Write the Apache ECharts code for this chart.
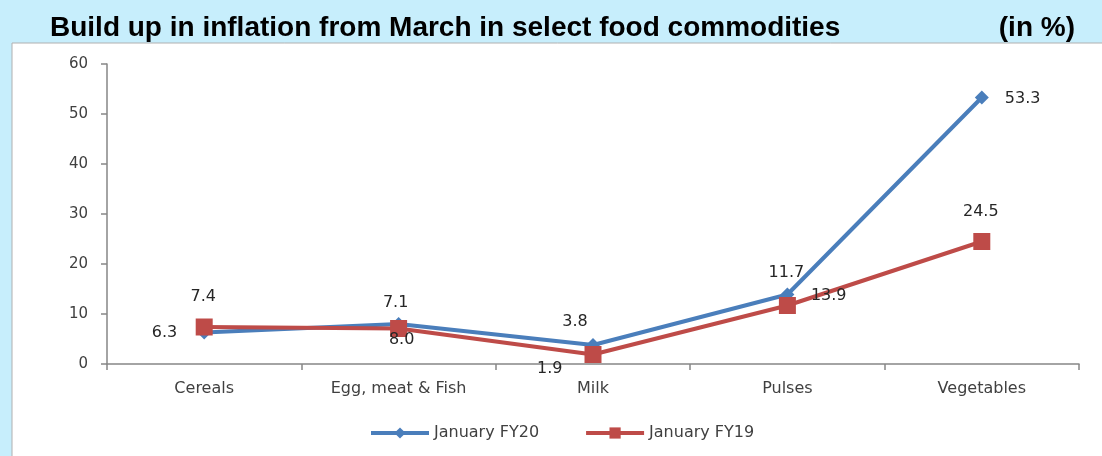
<!DOCTYPE html>
<html>
<head>
<meta charset="utf-8">
<script src="https://cdn.jsdelivr.net/npm/echarts@6/dist/echarts.min.js"></script>
<style>
    html, body { margin: 0; padding: 0; background: #c7eefc; }
    #main { width: 1102px; height: 456px; }
</style>
</head>
<body>
<div id="main"></div>
<script>
// 数据
var categories = ['Cereals', 'Egg, meat & Fish', 'Milk', 'Pulses', 'Vegetables'];
var fy20Values = [6.3, 8.0, 3.8, 13.9, 53.3];
var fy19Values = [7.4, 7.1, 1.9, 11.7, 24.5];
// 图上标注的文字（原图中有两处是对调的）
var fy20Labels = ['6.3', '7.1', '3.8', '11.7', '53.3'];
var fy19Labels = ['7.4', '8.0', '1.9', '13.9', '24.5'];
var yTicks = [0, 10, 20, 30, 40, 50, 60];

(function() {
    var myChart = echarts.init(document.getElementById('main'));

    // 每个点的标签位置和微调
    var fy20Pos = ['left', 'top', 'top', 'top', 'right'];
    var fy20Off = [[-10, 0], [-3, 4], [-18, 2], [-1, 3], [6, 1]];
    var fy19Pos = ['top', 'bottom', 'left', 'right', 'top'];
    var fy19Off = [[-1, -4], [3, -15], [-12, 14], [5, -10], [-1, -3]];

    function buildData(values, labels, pos, off) {
        return values.map(function(v, i) {
            return {
                value: v,
                label: { formatter: labels[i], position: pos[i], offset: off[i] }
            };
        });
    }

    var labelStyle = {
        show: true,
        color: '#262626',
        fontFamily: 'DejaVu Sans',
        fontSize: 16,
        distance: 10
    };

    var option = {
        backgroundColor: '#c7eefc',
        animation: false,
        title: [{
            text: 'Build up in inflation from March in select food commodities',
            left: 45,
            top: 9,
            textStyle: { fontFamily: 'Liberation Sans', fontWeight: 'bold', fontSize: 28, color: '#000' }
        }, {
            text: '(in %)',
            right: 22,
            top: 9,
            textStyle: { fontFamily: 'Liberation Sans', fontWeight: 'bold', fontSize: 28, color: '#000' }
        }],
        // 白色底板
        graphic: [{
            type: 'rect',
            z: -10,
            shape: { x: 12, y: 43, width: 1100, height: 420 },
            style: { fill: '#fff', stroke: '#b0b0b0', lineWidth: 1 }
        }],
        legend: {
            top: 420,
            left: 364,
            itemWidth: 58,
            itemHeight: 14,
            itemGap: 45,
            lineStyle: { width: 4 },
            textStyle: { fontFamily: 'DejaVu Sans', fontSize: 16, color: '#404040' },
            data: ['January FY20', 'January FY19']
        },
        grid: {
            left: 107,
            right: 23,
            top: 64,
            bottom: 92,
            containLabel: false
        },
        xAxis: {
            type: 'category',
            data: categories,
            boundaryGap: true,
            axisLine: { lineStyle: { color: '#868686', width: 1.5 } },
            axisTick: { show: true, length: 6, lineStyle: { color: '#868686', width: 1.5 } },
            axisLabel: { color: '#404040', fontFamily: 'DejaVu Sans', fontSize: 16, margin: 17 }
        },
        yAxis: {
            type: 'value',
            min: yTicks[0],
            max: yTicks[yTicks.length - 1],
            interval: 10,
            axisLine: { show: true, lineStyle: { color: '#868686', width: 1.5 } },
            axisTick: { show: true, length: 6, lineStyle: { color: '#868686', width: 1.5 } },
            axisLabel: { color: '#404040', fontFamily: 'DejaVu Sans', fontSize: 15, margin: 19 },
            splitLine: { show: false }
        },
        series: [{
            name: 'January FY20',
            type: 'line',
            symbol: 'diamond',
            symbolSize: 14,
            color: '#4a7ebb',
            lineStyle: { width: 4, color: '#4a7ebb' },
            label: labelStyle,
            data: buildData(fy20Values, fy20Labels, fy20Pos, fy20Off)
        }, {
            name: 'January FY19',
            type: 'line',
            symbol: 'rect',
            symbolSize: 17,
            color: '#be4b48',
            lineStyle: { width: 4, color: '#be4b48' },
            label: labelStyle,
            data: buildData(fy19Values, fy19Labels, fy19Pos, fy19Off)
        }]
    };

    myChart.setOption(option);
})();
</script>
</body>
</html>
